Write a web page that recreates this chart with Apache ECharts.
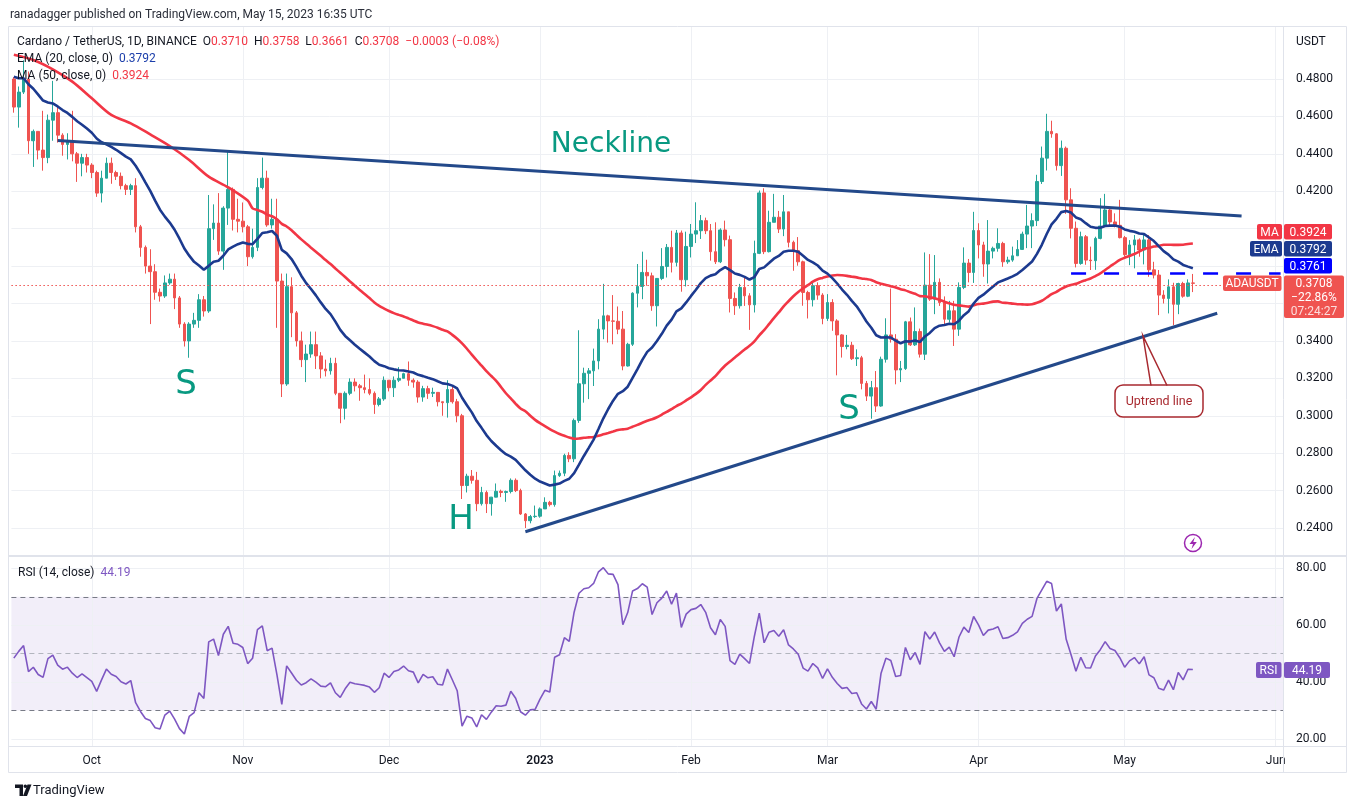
<!DOCTYPE html>
<html>
<head>
<meta charset="utf-8">
<title>Cardano / TetherUS, 1D</title>
<script src="https://cdn.jsdelivr.net/npm/echarts@6/dist/echarts.min.js"></script>
<style>
  html, body { margin: 0; padding: 0; background: #fff; }
  #chart { width: 1357px; height: 809px; }
</style>
</head>
<body>
<div id="chart"></div>
<script>
// daily candles from 2022-09-15 to 2023-05-15, open = previous close
var startDate = Date.UTC(2022, 8, 15);
var futureDays = 18;
var firstOpen = 0.4800;

var closes = [
  0.465, 0.473, 0.480, 0.447, 0.452, 0.442, 0.438, 0.458, 0.462, 0.450,
  0.445, 0.447, 0.440, 0.435, 0.438, 0.434, 0.430, 0.419, 0.427, 0.435,
  0.430, 0.428, 0.423, 0.421, 0.423, 0.401, 0.390, 0.380, 0.377, 0.366,
  0.364, 0.371, 0.373, 0.363, 0.349, 0.340, 0.349, 0.351, 0.362, 0.356,
  0.400, 0.403, 0.388, 0.411, 0.421, 0.405, 0.404, 0.401, 0.385, 0.390,
  0.422, 0.427, 0.402, 0.405, 0.372, 0.317, 0.369, 0.355, 0.340, 0.330,
  0.333, 0.338, 0.332, 0.325, 0.324, 0.328, 0.312, 0.304, 0.312, 0.318,
  0.316, 0.315, 0.314, 0.312, 0.306, 0.309, 0.319, 0.315, 0.319, 0.320,
  0.3225, 0.319, 0.318, 0.310, 0.3145, 0.312, 0.3125, 0.3075, 0.307, 0.314,
  0.3075, 0.300, 0.2627, 0.2677, 0.2655, 0.253, 0.259, 0.253, 0.2565, 0.2596,
  0.259, 0.2595, 0.2655, 0.260, 0.2475, 0.2439, 0.2461, 0.2463, 0.2502, 0.2537,
  0.2525, 0.268, 0.2693, 0.2788, 0.277, 0.2975, 0.3171, 0.3227, 0.324, 0.3293,
  0.3463, 0.3534, 0.3507, 0.3505, 0.3463, 0.3266, 0.3382, 0.3655, 0.3691, 0.3766,
  0.3748, 0.3588, 0.3734, 0.3798, 0.390, 0.382, 0.3977, 0.3727, 0.3905, 0.3971,
  0.3989, 0.4043, 0.3989, 0.3877, 0.3823, 0.3993, 0.3941, 0.3627, 0.3588, 0.3686,
  0.3641, 0.3593, 0.3868, 0.4191, 0.3877, 0.4034, 0.4061, 0.3998, 0.409, 0.3927,
  0.3882, 0.3823, 0.3659, 0.362, 0.3695, 0.3645, 0.352, 0.3605, 0.3507, 0.3432,
  0.337, 0.3377, 0.3305, 0.331, 0.3173, 0.3105, 0.315, 0.3052, 0.3302, 0.3432,
  0.3409, 0.3245, 0.3252, 0.3502, 0.3379, 0.345, 0.3329, 0.3698, 0.3623, 0.3713,
  0.3605, 0.3516, 0.3561, 0.3463, 0.3686, 0.3816, 0.3766, 0.399, 0.3913, 0.3811,
  0.388, 0.3895, 0.3921, 0.3823, 0.3832, 0.3855, 0.3889, 0.3971, 0.4014, 0.4043,
  0.4252, 0.4377, 0.452, 0.4507, 0.4337, 0.443, 0.4154, 0.4002, 0.3814, 0.3957,
  0.3832, 0.3829, 0.3948, 0.4014, 0.410, 0.4036, 0.4018, 0.3952, 0.3861, 0.3913,
  0.394, 0.3886, 0.394, 0.378, 0.3752, 0.3645, 0.3627, 0.3689, 0.3596, 0.3707,
  0.3639, 0.3710, 0.3708
];

var highs = [
  0.481, 0.476, 0.490, 0.484, 0.453, 0.452, 0.463, 0.461, 0.479, 0.465,
  0.451, 0.451, 0.463, 0.441, 0.440, 0.440, 0.435, 0.431, 0.431, 0.438,
  0.438, 0.431, 0.430, 0.424, 0.424, 0.427, 0.402, 0.391, 0.389, 0.381,
  0.368, 0.375, 0.376, 0.376, 0.364, 0.350, 0.350, 0.355, 0.365, 0.364,
  0.418, 0.413, 0.419, 0.412, 0.441, 0.422, 0.416, 0.414, 0.402, 0.400,
  0.427, 0.438, 0.431, 0.416, 0.416, 0.376, 0.376, 0.374, 0.356, 0.345,
  0.338, 0.345, 0.345, 0.334, 0.330, 0.331, 0.331, 0.312, 0.313, 0.320,
  0.320, 0.317, 0.322, 0.320, 0.313, 0.310, 0.321, 0.319, 0.321, 0.326,
  0.323, 0.329, 0.320, 0.319, 0.316, 0.316, 0.315, 0.3125, 0.3075, 0.319,
  0.316, 0.309, 0.301, 0.269, 0.271, 0.270, 0.262, 0.260, 0.2566, 0.2638,
  0.2605, 0.260, 0.2665, 0.2665, 0.261, 0.248, 0.247, 0.252, 0.251, 0.2564,
  0.2545, 0.2707, 0.2707, 0.2797, 0.2805, 0.2985, 0.3457, 0.3257, 0.3255, 0.3359,
  0.3516, 0.3705, 0.354, 0.3645, 0.3584, 0.356, 0.339, 0.366, 0.3811, 0.3877,
  0.3834, 0.3765, 0.3736, 0.3896, 0.3918, 0.3989, 0.3993, 0.3990, 0.3984, 0.4025,
  0.4141, 0.4073, 0.4059, 0.4025, 0.4034, 0.4002, 0.4043, 0.3963, 0.3659, 0.3705,
  0.3745, 0.3655, 0.3936, 0.4204, 0.4216, 0.4096, 0.4186, 0.4095, 0.418, 0.4061,
  0.3936, 0.3955, 0.3829, 0.3668, 0.3713, 0.3713, 0.3655, 0.365, 0.3623, 0.3516,
  0.3436, 0.3432, 0.3395, 0.3355, 0.332, 0.3186, 0.3186, 0.3239, 0.3316, 0.3521,
  0.368, 0.3436, 0.3293, 0.3507, 0.3525, 0.3579, 0.3466, 0.3873, 0.3864, 0.3859,
  0.3734, 0.3638, 0.3614, 0.3614, 0.3713, 0.390, 0.3838, 0.409, 0.4029, 0.393,
  0.4046, 0.3904, 0.4002, 0.393, 0.385, 0.3904, 0.3939, 0.3984, 0.4127, 0.4082,
  0.4288, 0.4439, 0.4614, 0.4577, 0.4511, 0.4471, 0.4439, 0.4216, 0.4038, 0.3984,
  0.3966, 0.3904, 0.3957, 0.4163, 0.4186, 0.4118, 0.4082, 0.4154, 0.3961, 0.3939,
  0.3966, 0.3948, 0.3966, 0.3966, 0.3823, 0.3779, 0.3671, 0.3729, 0.3711, 0.3711,
  0.3716, 0.3729, 0.3758
];

var lows = [
  0.462, 0.454, 0.472, 0.440, 0.433, 0.437, 0.431, 0.435, 0.447, 0.446,
  0.439, 0.437, 0.436, 0.425, 0.428, 0.430, 0.427, 0.417, 0.414, 0.427,
  0.424, 0.426, 0.421, 0.418, 0.418, 0.398, 0.385, 0.376, 0.349, 0.362,
  0.361, 0.363, 0.370, 0.357, 0.347, 0.337, 0.331, 0.347, 0.347, 0.353,
  0.355, 0.394, 0.386, 0.378, 0.402, 0.399, 0.398, 0.398, 0.380, 0.384,
  0.388, 0.421, 0.401, 0.400, 0.347, 0.310, 0.316, 0.342, 0.337, 0.326,
  0.318, 0.331, 0.325, 0.320, 0.321, 0.322, 0.311, 0.296, 0.298, 0.311,
  0.313, 0.308, 0.312, 0.311, 0.301, 0.305, 0.308, 0.313, 0.310, 0.318,
  0.320, 0.316, 0.315, 0.307, 0.3075, 0.309, 0.310, 0.305, 0.300, 0.299,
  0.3065, 0.2965, 0.2555, 0.259, 0.2637, 0.249, 0.252, 0.248, 0.2466, 0.2564,
  0.2565, 0.254, 0.2585, 0.2592, 0.247, 0.240, 0.2425, 0.2454, 0.2455, 0.2528,
  0.2515, 0.2514, 0.2673, 0.2677, 0.2752, 0.2752, 0.2962, 0.307, 0.3089, 0.3159,
  0.3248, 0.3409, 0.3391, 0.3382, 0.3436, 0.3243, 0.3263, 0.3373, 0.3579, 0.3623,
  0.3695, 0.3561, 0.3477, 0.3725, 0.3739, 0.3766, 0.3798, 0.3663, 0.3691, 0.3846,
  0.3923, 0.3945, 0.3971, 0.3829, 0.3811, 0.3816, 0.3905, 0.3552, 0.3539, 0.3573,
  0.3587, 0.3459, 0.3552, 0.3864, 0.3864, 0.3873, 0.4034, 0.3977, 0.396, 0.39,
  0.3775, 0.3802, 0.3588, 0.352, 0.3584, 0.362, 0.3489, 0.3507, 0.3454, 0.3216,
  0.3311, 0.3355, 0.3298, 0.3266, 0.3141, 0.3079, 0.2984, 0.302, 0.3048, 0.3284,
  0.3391, 0.3168, 0.318, 0.3245, 0.3373, 0.3373, 0.3311, 0.3298, 0.3614, 0.3543,
  0.3587, 0.3489, 0.3498, 0.3373, 0.3427, 0.3677, 0.3713, 0.371, 0.3841, 0.3743,
  0.3707, 0.3841, 0.3877, 0.3796, 0.3812, 0.3823, 0.3855, 0.3886, 0.3896, 0.3896,
  0.4014, 0.4239, 0.4311, 0.4486, 0.4311, 0.4282, 0.4079, 0.3948, 0.3793, 0.3807,
  0.3807, 0.3779, 0.3780, 0.3943, 0.4012, 0.4011, 0.4007, 0.3948, 0.3850, 0.3805,
  0.3788, 0.3850, 0.3809, 0.3743, 0.3734, 0.3538, 0.3600, 0.3547, 0.3484, 0.3543,
  0.3631, 0.3634, 0.3661
];

var ma50HeadIdx = [0, 4, 8, 12, 16, 20, 24, 28, 32, 36, 40, 44, 48];
var ma50HeadVal = [0.493, 0.4902, 0.4852, 0.4786, 0.4697, 0.4608, 0.4563, 0.4504, 0.4442, 0.4367, 0.4278, 0.4221, 0.415];
var emaSeed = 0.4812;
var rsiSeedGain = 0.0062, rsiSeedLoss = 0.0066;

var priceTicks = [0.24, 0.26, 0.28, 0.30, 0.32, 0.34, 0.36, 0.38, 0.40, 0.42, 0.44, 0.46, 0.48];
var hiddenPriceLabels = [0.36, 0.38, 0.40]; // covered by the price tags
var rsiTicks = [20, 40, 60, 80];
var rsiLevels = [70, 50, 30];
var monthNames = ['Jan', 'Feb', 'Mar', 'Apr', 'May', 'Jun', 'Jul', 'Aug', 'Sep', 'Oct', 'Nov', 'Dec'];

// drawings: [day index, price]
var neckline = [[9, 0.4471], [252, 0.4068]];
var uptrend = [[105, 0.2380], [247, 0.3548]];
var resistance = [217, 0.3761];

var legendText = {
  ohlc: ['0.3710', '0.3758', '0.3661', '0.3708'],
  change: '\u22120.0003 (\u22120.08%)',
  ema: '0.3792',
  ma: '0.3924',
  rsi: '44.19',
  pct: '\u221222.86%',
  timer: '07:24:27'
};

function pad(n) { return n < 10 ? '0' + n : '' + n; }

var dates = [];
for (var i = 0; i < closes.length + futureDays; i++) {
  var d = new Date(startDate + i * 86400000);
  dates.push(d.getUTCFullYear() + '-' + pad(d.getUTCMonth() + 1) + '-' + pad(d.getUTCDate()));
}

var candles = [];
for (var i = 0; i < closes.length; i++) {
  var o = i === 0 ? firstOpen : closes[i - 1];
  var c = closes[i];
  candles.push([o, c, Math.min(lows[i], o, c), Math.max(highs[i], o, c)]);
}

var ema = [emaSeed];
var k = 2 / 21;
for (var i = 1; i < closes.length; i++) {
  ema.push(ema[i - 1] + k * (closes[i] - ema[i - 1]));
}

var ma50 = [];
for (var i = 0; i < closes.length; i++) {
  if (i < 49) {
    var h = ma50HeadIdx.indexOf(i);
    ma50.push(h >= 0 ? ma50HeadVal[h] : null);
  } else {
    var s = 0;
    for (var j = i - 49; j <= i; j++) s += closes[j];
    ma50.push(s / 50);
  }
}

var rsi = [];
var ag = rsiSeedGain, al = rsiSeedLoss;
rsi.push(100 - 100 / (1 + ag / al));
for (var i = 1; i < closes.length; i++) {
  var ch = closes[i] - closes[i - 1];
  ag = (ag * 13 + Math.max(ch, 0)) / 14;
  al = (al * 13 + Math.max(-ch, 0)) / 14;
  rsi.push(al === 0 ? 100 : 100 - 100 / (1 + ag / al));
}

var emptyData = dates.map(function () { return null; });
var monthStarts = dates.filter(function (d) { return d.slice(8) === '01'; });

var gridColor = '#eef0f4';
var priceGrid = priceTicks.map(function (v) {
  return { yAxis: v, lineStyle: { color: gridColor, width: 1, type: 'solid' } };
});
var priceMonthLines = monthStarts.map(function (d) {
  return [{ coord: [d, 0.2256], lineStyle: { color: gridColor, width: 1, type: 'solid' } }, { coord: [d, 0.5081] }];
});
var rsiGrid = rsiTicks.map(function (v) {
  return { yAxis: v, lineStyle: { color: gridColor, width: 1, type: 'solid' } };
});
var rsiMonthLines = monthStarts.map(function (d) {
  return [{ coord: [d, 17.3], lineStyle: { color: gridColor, width: 1, type: 'solid' } }, { coord: [d, 84.1] }];
});
var rsiLevelLines = rsiLevels.map(function (v) {
  return { yAxis: v, lineStyle: { color: v === 50 ? '#b2b5be' : '#787b86', width: 1, type: [5, 4] } };
});

var last = closes.length - 1;
var drawLines = [
  { yAxis: closes[last], lineStyle: { color: '#ef5350', width: 1, type: [1.5, 2.5] } },
  [{ coord: [dates[neckline[0][0]], neckline[0][1]], lineStyle: { color: '#23498a', width: 3, type: 'solid' } },
   { coord: [dates[neckline[1][0]], neckline[1][1]] }],
  [{ coord: [dates[uptrend[0][0]], uptrend[0][1]], lineStyle: { color: '#23498a', width: 3, type: 'solid' } },
   { coord: [dates[uptrend[1][0]], uptrend[1][1]] }],
  [{ coord: [dates[resistance[0]], resistance[1]], lineStyle: { color: '#0000ff', width: 2.5, type: [15, 18] } },
   { coord: [dates[dates.length - 1], resistance[1]] }]
];

var font = 'Roboto, "Noto Sans", sans-serif';
var ink = '#131722';

function label(x, y, text, fill, size, align, weight, family) {
  return {
    type: 'text', z: 100, silent: true,
    style: {
      x: x, y: y, text: text, fill: fill,
      fontSize: size, fontFamily: family || font, fontWeight: weight || 'normal',
      align: align || 'left', verticalAlign: 'middle'
    }
  };
}
function richLabel(x, y, text, valueColor) {
  return {
    type: 'text', z: 100, silent: true,
    style: {
      x: x, y: y, verticalAlign: 'middle', fontSize: 12, fontFamily: font, text: text,
      rich: {
        n: { fill: ink, fontSize: 12, fontFamily: font },
        v: { fill: valueColor, fontSize: 12, fontFamily: font }
      }
    }
  };
}
function box(x, y, w, h, fill, r) {
  return { type: 'rect', z: 99, silent: true, shape: { x: x, y: y, width: w, height: h, r: r || 0 }, style: { fill: fill } };
}
function hline(x1, x2, y, color, width) {
  return { type: 'line', z: 98, silent: true, shape: { x1: x1, y1: y, x2: x2, y2: y }, style: { stroke: color, lineWidth: width || 1 } };
}

var teal = '#089981';
var calloutRed = '#a8292f';
var annotFont = '"DejaVu Sans", sans-serif';

var graphics = [
  // frame and pane separators
  { type: 'rect', z: 98, silent: true, shape: { x: 8.5, y: 26.5, width: 1338, height: 746 }, style: { fill: 'none', stroke: '#e0e3eb', lineWidth: 1 } },
  hline(8.5, 1346.5, 556, '#e0e3eb', 2),
  hline(8.5, 1346.5, 746.5, '#e0e3eb', 1),
  { type: 'line', z: 98, silent: true, shape: { x1: 1283.5, y1: 26.5, x2: 1283.5, y2: 772.5 }, style: { stroke: '#e0e3eb', lineWidth: 1 } },

  label(10, 15, 'ranadagger published on TradingView.com, May 15, 2023 16:35 UTC', '#2a2e39', 12),
  richLabel(17, 42, '{n|Cardano / TetherUS, 1D, BINANCE}  {n|O}{v|' + legendText.ohlc[0] + '}  {n|H}{v|' + legendText.ohlc[1] +
    '}  {n|L}{v|' + legendText.ohlc[2] + '}  {n|C}{v|' + legendText.ohlc[3] + '}  {v|' + legendText.change + '}', '#f23645'),
  richLabel(17, 59, '{n|EMA (20, close, 0)}  {v|' + legendText.ema + '}', '#1c3fab'),
  richLabel(17, 76, '{n|MA (50, close, 0)}  {v|' + legendText.ma + '}', '#f23645'),
  richLabel(18, 572.5, '{n|RSI (14, close)}  {v|' + legendText.rsi + '}', '#7e57c2'),
  label(1296, 42, 'USDT', ink, 12),

  // chart annotations
  label(611, 145, 'Neckline', teal, 28, 'center', 'normal', annotFont),
  label(186, 385, 'S', teal, 34, 'center', 'normal', annotFont),
  label(461, 520, 'H', teal, 34, 'center', 'normal', annotFont),
  label(849, 410, 'S', teal, 34, 'center', 'normal', annotFont),

  // uptrend callout
  { type: 'rect', z: 99, silent: true, shape: { x: 1115, y: 385, width: 88, height: 32, r: 8 }, style: { fill: '#fff', stroke: calloutRed, lineWidth: 1.5 } },
  hline(1152, 1166, 385, '#fff', 3),
  { type: 'polyline', z: 100, silent: true, shape: { points: [[1151, 385.5], [1143, 336], [1167, 385.5]] }, style: { stroke: calloutRed, lineWidth: 1.5, fill: 'none' } },
  label(1159, 401.5, 'Uptrend line', calloutRed, 12.5, 'center'),

  // price scale tags
  box(1257, 224, 25, 15.5, '#f23645', 2), box(1284, 224, 48, 15.5, '#f23645', 2),
  label(1269.5, 232.5, 'MA', '#fff', 12, 'center'), label(1308, 232.5, legendText.ma, '#fff', 12, 'center'),
  box(1250, 241, 32, 15.5, '#1c3a8f', 2), box(1284, 241, 48, 15.5, '#1c3a8f', 2),
  label(1266, 249.5, 'EMA', '#fff', 12, 'center'), label(1308, 249.5, legendText.ema, '#fff', 12, 'center'),
  box(1284, 258, 48, 15.5, '#0000ff', 2),
  label(1308, 266.5, resistance[1].toFixed(4), '#fff', 12, 'center'),
  box(1223, 275.5, 58.5, 15.5, '#ef5350', 2), box(1284, 275.5, 60, 42.5, '#ef5350', 2),
  label(1252, 284, 'ADAUSDT', '#fff', 12, 'center'),
  label(1314, 284, closes[last].toFixed(4), '#fff', 12, 'center'),
  label(1314, 298, legendText.pct, '#fff', 12, 'center'),
  label(1314, 312, legendText.timer, 'rgba(255,255,255,0.8)', 12, 'center'),
  box(1256, 662, 25.5, 16, '#7e57c2', 2), box(1284, 662, 46, 16, '#7e57c2', 2),
  label(1268.5, 671, 'RSI', '#fff', 12, 'center'), label(1307, 671, legendText.rsi, '#fff', 12, 'center'),

  // replay icon
  { type: 'circle', z: 100, silent: true, shape: { cx: 1193, cy: 543, r: 8.5 }, style: { fill: '#fff', stroke: '#9c27b0', lineWidth: 1.5 } },
  { type: 'polygon', z: 101, silent: true, shape: { points: [[1195, 537], [1189.5, 544], [1193, 544], [1191.5, 549], [1196.8, 542], [1193.3, 542]] }, style: { fill: '#9c27b0' } },

  // TradingView mark
  { type: 'polygon', z: 100, silent: true, shape: { points: [[15, 784.5], [23, 784.5], [23, 796], [19.5, 796], [19.5, 788], [15, 788]] }, style: { fill: ink } },
  { type: 'circle', z: 100, silent: true, shape: { cx: 25.3, cy: 786.3, r: 1.8 }, style: { fill: ink } },
  { type: 'polygon', z: 100, silent: true, shape: { points: [[27.5, 784.5], [31.5, 784.5], [27, 796], [23, 796]] }, style: { fill: ink } },
  label(33, 791, 'TradingView', ink, 13)
];

var option = {
  animation: false,
  backgroundColor: '#ffffff',
  textStyle: { fontFamily: font },
  grid: [
    { left: 11.4, right: 74, top: 4.17, height: 561.25, outerBoundsMode: 'none' },
    { left: 11.4, right: 74, top: 511.4, height: 284.5, outerBoundsMode: 'none' }
  ],
  xAxis: [
    { type: 'category', gridIndex: 0, data: dates, boundaryGap: true, show: false },
    {
      type: 'category', gridIndex: 1, data: dates, boundaryGap: true, offset: -45,
      axisLine: { show: false, onZero: false }, axisTick: { show: false }, splitLine: { show: false },
      axisLabel: {
        margin: 4, color: ink, fontSize: 12,
        interval: function (idx, value) { return value.slice(8) === '01'; },
        formatter: function (value) {
          var m = +value.slice(5, 7);
          return m === 1 ? '{y|' + value.slice(0, 4) + '}' : monthNames[m - 1];
        },
        rich: { y: { color: ink, fontSize: 12, fontWeight: 600 } }
      }
    }
  ],
  yAxis: [
    {
      type: 'value', gridIndex: 0, position: 'right', min: 0.22, max: 0.52, interval: 0.02,
      axisLine: { show: false }, axisTick: { show: false }, splitLine: { show: false },
      axisLabel: {
        margin: 13, color: ink, fontSize: 12, padding: [4, 0, 0, 0],
        formatter: function (v) {
          var shown = v > 0.235 && v < 0.485 && hiddenPriceLabels.every(function (h) { return Math.abs(h - v) > 0.001; });
          return shown ? v.toFixed(4) : '';
        }
      }
    },
    {
      type: 'value', gridIndex: 1, position: 'right', min: 0, max: 100, interval: 20,
      axisLine: { show: false }, axisTick: { show: false }, splitLine: { show: false },
      axisLabel: {
        margin: 13, color: ink, fontSize: 12, padding: [4, 0, 0, 0],
        formatter: function (v) { return v >= 20 && v <= 80 ? v.toFixed(2) : ''; }
      }
    }
  ],
  series: [
    {
      name: 'grid0', type: 'line', xAxisIndex: 0, yAxisIndex: 0, data: emptyData, silent: true, z: 1,
      markLine: { z: 1, silent: true, animation: false, symbol: ['none', 'none'], label: { show: false },
        data: priceGrid.concat(priceMonthLines) }
    },
    {
      name: 'grid1', type: 'line', xAxisIndex: 1, yAxisIndex: 1, data: emptyData, silent: true, z: 1,
      markArea: { z: 1, silent: true, itemStyle: { color: 'rgba(126,87,194,0.1)' }, data: [[{ yAxis: 30 }, { yAxis: 70 }]] },
      markLine: { z: 2, silent: true, animation: false, symbol: ['none', 'none'], label: { show: false },
        data: rsiGrid.concat(rsiMonthLines).concat(rsiLevelLines) }
    },
    {
      name: 'ADAUSDT', type: 'candlestick', xAxisIndex: 0, yAxisIndex: 0, data: candles, z: 3,
      barWidth: 3.2,
      itemStyle: { color: '#26a69a', color0: '#ef5350', borderColor: '#26a69a', borderColor0: '#ef5350', borderWidth: 1 },
      markLine: { z: 6, silent: true, animation: false, symbol: ['none', 'none'], label: { show: false }, data: drawLines }
    },
    {
      name: 'MA', type: 'line', xAxisIndex: 0, yAxisIndex: 0, data: ma50, connectNulls: true, smooth: 0.3,
      showSymbol: false, symbol: 'none', z: 4, lineStyle: { color: '#f23645', width: 2.6 }
    },
    {
      name: 'EMA', type: 'line', xAxisIndex: 0, yAxisIndex: 0, data: ema,
      showSymbol: false, symbol: 'none', z: 5, lineStyle: { color: '#1c3a8f', width: 2.6 }
    },
    {
      name: 'RSI', type: 'line', xAxisIndex: 1, yAxisIndex: 1, data: rsi,
      showSymbol: false, symbol: 'none', z: 5, lineStyle: { color: '#7e57c2', width: 1.6 }
    }
  ],
  graphic: graphics
};

var chart = echarts.init(document.getElementById('chart'));
chart.setOption(option);
</script>
</body>
</html>
